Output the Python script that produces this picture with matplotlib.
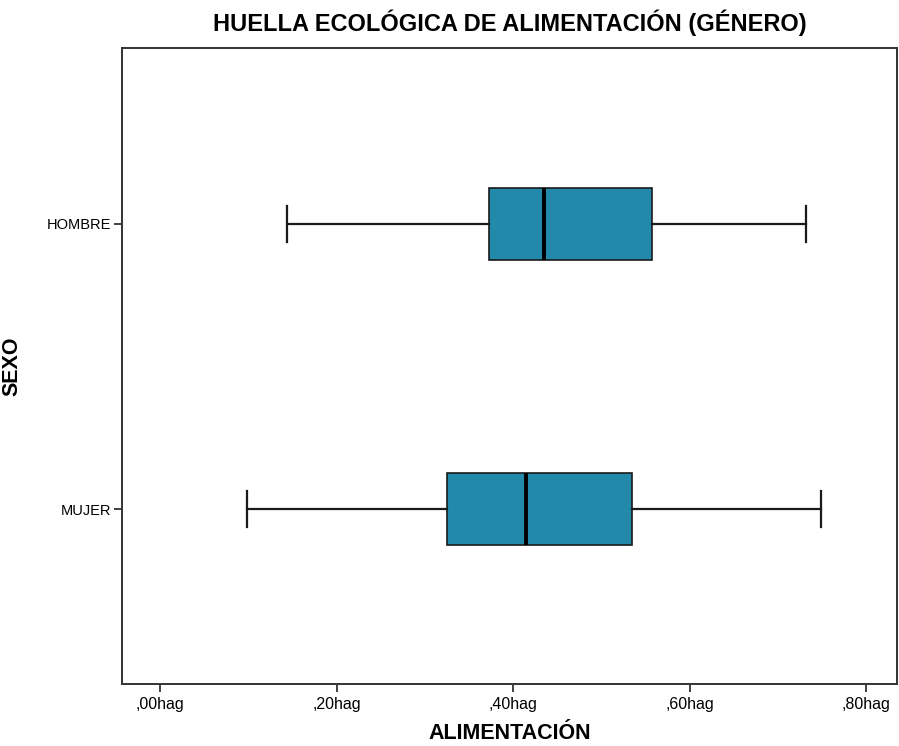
import numpy as np
import matplotlib.pyplot as plt

# ---- data (hag) ----
groups = ['MUJER', 'HOMBRE']
whis_lo = [0.099, 0.144]
q1 = [0.325, 0.373]
medians = [0.415, 0.435]
q3 = [0.535, 0.557]
whis_hi = [0.749, 0.732]
xticks = [0.0, 0.2, 0.4, 0.6, 0.8]
xticklabels = [',00hag', ',20hag', ',40hag', ',60hag', ',80hag']

plt.rcParams['font.family'] = ['Liberation Sans', 'DejaVu Sans']

fig = plt.figure(figsize=(8.99, 7.46), dpi=100)
ax = fig.add_axes([0.1357, 0.0831, 0.8623, 0.8526])

stats = []
for i in range(len(groups)):
    stats.append({'label': groups[i], 'whislo': whis_lo[i], 'q1': q1[i], 'med': medians[i],
                  'q3': q3[i], 'whishi': whis_hi[i], 'fliers': []})

ax.bxp(stats, positions=[1, 2], vert=False, widths=0.2526, capwidths=0.126,
       patch_artist=True, showfliers=False,
       boxprops=dict(facecolor='#2389AA', edgecolor='#1a1a1a', linewidth=1.2),
       medianprops=dict(color='black', linewidth=2.8),
       whiskerprops=dict(color='#1a1a1a', linewidth=1.6),
       capprops=dict(color='#1a1a1a', linewidth=1.6))

ax.set_xlim(-0.0431, 0.835)
ax.set_ylim(0.386, 2.6175)
ax.set_xticks(xticks)
ax.set_xticklabels(xticklabels, fontsize=11.5)
ax.set_yticks([1, 2])
ax.set_yticklabels(groups, fontsize=10.5)
ax.tick_params(direction='out', length=6, width=1.3, color='#333333')
ax.tick_params(axis='y', pad=2)
for s in ax.spines.values():
    s.set_linewidth(1.4)
    s.set_color('#333333')

ax.set_title('HUELLA ECOLÓGICA DE ALIMENTACIÓN (GÉNERO)', fontsize=17, fontweight='bold', pad=12)
ax.set_xlabel('ALIMENTACIÓN', fontsize=15.5, fontweight='bold', labelpad=8)
ax.set_ylabel('SEXO', fontsize=15.5, fontweight='bold')
ax.yaxis.set_label_coords(-0.129, 0.5)

fig.savefig('out.png', dpi=100)
